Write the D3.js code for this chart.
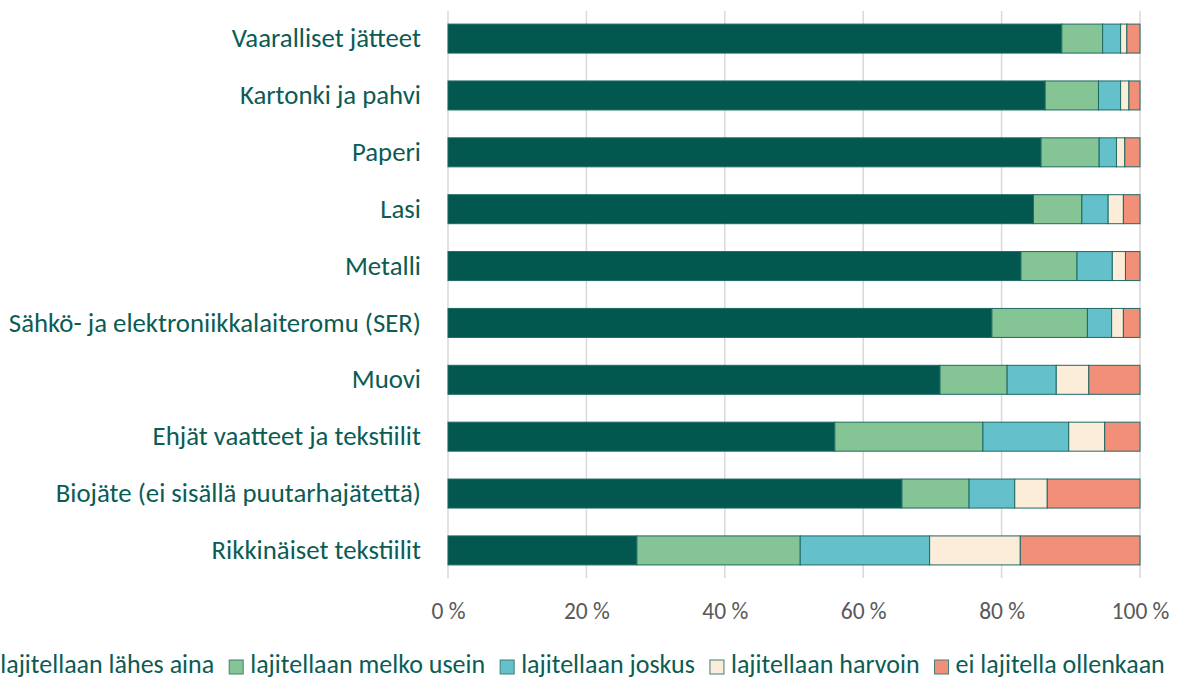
<!DOCTYPE html>
<html>
<head>
<meta charset="utf-8">
<script src="https://cdn.jsdelivr.net/npm/d3@7"></script>
<style>
  html, body { margin: 0; padding: 0; background: #ffffff; }
  svg { display: block; }
</style>
</head>
<body>
<svg id="chart" width="1178" height="680"></svg>
<script>
// Waste fractions, top to bottom
const categories = [
  "Vaaralliset jätteet",
  "Kartonki ja pahvi",
  "Paperi",
  "Lasi",
  "Metalli",
  "Sähkö- ja elektroniikkalaiteromu (SER)",
  "Muovi",
  "Ehjät vaatteet ja tekstiilit",
  "Biojäte (ei sisällä puutarhajätettä)",
  "Rikkinäiset tekstiilit"
];

// Sorting frequency groups
const seriesNames = [
  "lajitellaan lähes aina",
  "lajitellaan melko usein",
  "lajitellaan joskus",
  "lajitellaan harvoin",
  "ei lajitella ollenkaan"
];

// Share of respondents (%) for each group, in category order
const lahesAina   = [88.7, 86.3, 85.7, 84.6, 82.8, 78.6, 71.1, 55.9, 65.6, 27.3];
const melkoUsein  = [ 5.9,  7.7,  8.4,  7.0,  8.1, 13.8,  9.7, 21.4,  9.7, 23.6];
const joskus      = [ 2.6,  3.2,  2.5,  3.8,  5.1,  3.5,  7.1, 12.4,  6.6, 18.7];
const harvoin     = [ 0.9,  1.2,  1.2,  2.2,  1.9,  1.7,  4.7,  5.2,  4.7, 13.1];
const eiOllenkaan = [ 1.9,  1.6,  2.2,  2.4,  2.1,  2.4,  7.4,  5.1, 13.4, 17.3];

const tickValues = [0, 20, 40, 60, 80, 100];
const tickLabels = ["0 %", "20 %", "40 %", "60 %", "80 %", "100 %"];

const colors = ["#02574f", "#85c495", "#64c0cb", "#fcedda", "#f28f78"];

const seriesValues = [lahesAina, melkoUsein, joskus, harvoin, eiOllenkaan];
const rows = categories.map((c, i) => {
  const r = { category: c };
  seriesNames.forEach((s, k) => { r[s] = seriesValues[k][i]; });
  return r;
});

const svg = d3.select("#chart");
const FONT = "Carlito, Calibri, Lato, 'Open Sans', sans-serif";
const textColor = "#0b5c55";

const plot = { left: 448, right: 1140, top: 11, bottom: 578 };

const x = d3.scaleLinear().domain([0, 100]).range([plot.left, plot.right]);
const y = d3.scaleBand()
  .domain(categories)
  .range([plot.top, plot.bottom])
  .paddingInner(0.49)
  .paddingOuter(0.23);

// Vertical gridlines
svg.append("g")
  .selectAll("line")
  .data(tickValues)
  .join("line")
  .attr("x1", d => x(d)).attr("x2", d => x(d))
  .attr("y1", plot.top).attr("y2", plot.bottom)
  .attr("stroke", "#d9d9d9")
  .attr("stroke-width", 1.5);

// Stacked bars
const stack = d3.stack().keys(seriesNames);
const stacked = stack(rows);

svg.append("g")
  .selectAll("g")
  .data(stacked)
  .join("g")
  .attr("fill", (d, i) => colors[i])
  .selectAll("rect")
  .data(d => d)
  .join("rect")
  .attr("x", d => x(d[0]))
  .attr("y", d => y(d.data.category))
  .attr("width", d => x(d[1]) - x(d[0]))
  .attr("height", y.bandwidth())
  .attr("stroke", "#1e6a64")
  .attr("stroke-width", 1);

// Category labels
const yAxis = d3.axisLeft(y).tickSize(0).tickPadding(0);
const gy = svg.append("g")
  .attr("transform", `translate(${plot.left - 27},0)`)
  .call(yAxis);
gy.select(".domain").remove();
gy.selectAll("text")
  .attr("fill", textColor)
  .style("font-family", FONT)
  .style("font-size", "26.8px");

// Percentage axis
const xAxis = d3.axisBottom(x)
  .tickValues(tickValues)
  .tickFormat((d, i) => tickLabels[i])
  .tickSize(0)
  .tickPadding(0);
const gx = svg.append("g")
  .attr("transform", `translate(0,${plot.bottom + 41})`)
  .call(xAxis);
gx.select(".domain").remove();
gx.selectAll("text")
  .attr("fill", "#595959")
  .attr("dy", 0)
  .style("font-family", FONT)
  .style("font-size", "23.5px");

// Legend, laid out from measured text widths and centred under the chart
const legend = svg.append("g");
const sw = 14, gapSwatch = 7, gapItem = 15;
const items = legend.selectAll("g")
  .data(seriesNames)
  .join("g");
items.append("rect")
  .attr("width", sw).attr("height", sw)
  .attr("y", -sw + 1)
  .attr("fill", (d, i) => colors[i])
  .attr("stroke", "#3e7f79")
  .attr("stroke-width", 1);
items.append("text")
  .attr("x", sw + gapSwatch)
  .attr("fill", textColor)
  .style("font-family", FONT)
  .style("font-size", "26px")
  .text(d => d);

const widths = [];
items.each(function () {
  const w = sw + gapSwatch + d3.select(this).select("text").node().getComputedTextLength();
  widths.push(w);
});
const total = d3.sum(widths) + gapItem * (widths.length - 1);
const legendCenter = 572;
let offset = legendCenter - total / 2;
items.attr("transform", (d, i) => {
  const t = `translate(${offset},673)`;
  offset += widths[i] + gapItem;
  return t;
});
</script>
</body>
</html>
